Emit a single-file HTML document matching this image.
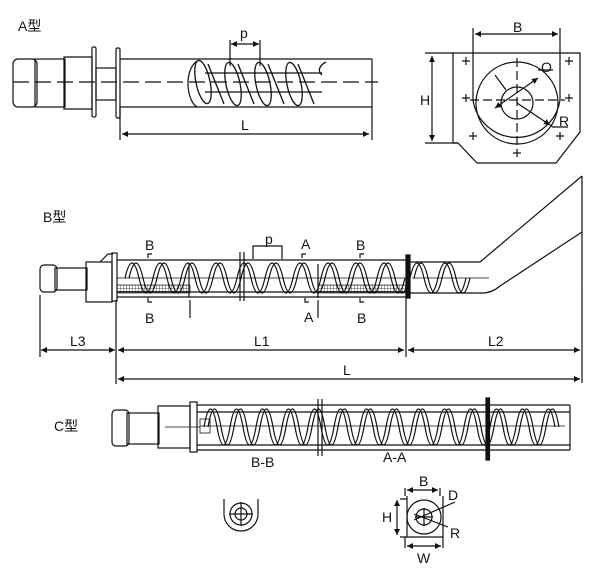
<!DOCTYPE html>
<html><head><meta charset="utf-8"><style>
html,body{margin:0;padding:0;background:#fff;}
svg{display:block;}
text{font-family:"Liberation Sans","Noto Sans CJK SC",sans-serif;fill:#111;}
</style></head><body>
<svg width="600" height="572" viewBox="0 0 600 572" xmlns="http://www.w3.org/2000/svg">
<defs>
<marker id="a" viewBox="0 0 10 10" refX="10" refY="5" markerWidth="7" markerHeight="5" orient="auto-start-reverse"><path d="M0,0 L10,5 L0,10 z" fill="#111"/></marker>
<pattern id="m" width="3" height="3" patternUnits="userSpaceOnUse"><path d="M0,0H3M0,0V3" stroke="#222" stroke-width="0.8"/></pattern>
</defs>
<g fill="none" stroke="#111" stroke-width="1.2">
<!-- ===== A type ===== -->
<rect x="13" y="59" width="24" height="48" rx="5"/>
<rect x="35" y="59" width="30" height="48"/>
<path d="M64,57 h28 v52 h-28 z"/>
<rect x="92" y="47" width="4" height="70" rx="1.5"/>
<rect x="96" y="68" width="20" height="32"/>
<rect x="116" y="48" width="4" height="70" rx="1.5"/>
<path d="M120,59 H372 M120,107 H372 M372,59 V140 M120,107 V140"/>
<path d="M13,82 H378" stroke-dasharray="16,6"/>
<path d="M197,61 C184,70 186,100 197,107"/>
<path d="M205,73 H322 M205,92 H322"/>
<g stroke-width="1.3">
<ellipse cx="203" cy="82" rx="7" ry="22" transform="rotate(-12 203 82)"/>
<ellipse cx="233" cy="84" rx="7" ry="22" transform="rotate(-12 233 84)"/>
<ellipse cx="263" cy="84" rx="7" ry="22" transform="rotate(-12 263 84)"/>
<ellipse cx="294" cy="84" rx="7" ry="22" transform="rotate(-12 294 84)"/>
<path d="M208,64 L224,104 M238,64 L254,104 M268,64 L284,104 M298,64 L314,104"/>
<path d="M326,62 C318,66 318,72 322,75"/>
</g>
<path d="M230,40 V66 M260,40 V66"/>
<path d="M231,44 H259" marker-start="url(#a)" marker-end="url(#a)"/>
<path d="M122,134 H369" marker-start="url(#a)" marker-end="url(#a)"/>
<!-- ===== top-right view ===== -->
<path d="M453,53 H580 V132 L556,163 H477 L458,143 H453 Z"/>
<path d="M425,53 H453 M425,143 H458"/>
<path d="M432,56 V141" marker-start="url(#a)" marker-end="url(#a)"/>
<path d="M473,28 V100 M560,28 V100"/>
<path d="M475,34 H558" marker-start="url(#a)" marker-end="url(#a)"/>
<path d="M473,100 A44,44 0 0 0 560,100"/>
<circle cx="517" cy="103" r="41"/>
<circle cx="517" cy="103" r="16"/>
<path d="M470,100 H565 M517,58 V150" stroke-dasharray="9,4"/>
<path d="M495,108 L538,78" marker-start="url(#a)" marker-end="url(#a)"/>
<path d="M517,103 L550,125" marker-end="url(#a)"/>
<path d="M495,75 L506,90"/>
<path d="M538,70 H553 M550,125 L553,127 H568"/>
<path d="M462,61h8M466,57v8 M565,61h8M569,57v8 M462,98h8M466,94v8 M565,98h8M569,94v8 M469,136h8M473,132v8 M556,136h8M560,132v8 M513,153h8M517,149v8"/>
<!-- ===== B type ===== -->
<rect x="40" y="265" width="17" height="27" rx="4"/>
<rect x="55" y="268" width="32" height="22"/>
<rect x="86" y="262" width="26" height="40"/>
<path d="M100,262 L108,254 H113"/>
<rect x="112" y="253" width="5" height="48"/>
<path d="M117,260 H406 M117,297 H406 M117,292 H406"/>
<path d="M409,262 H480 L582,176 M409,293 H482 Q492,293 500,286 L582,232 M582,176 V383"/>
<rect x="117" y="285" width="73" height="8" fill="url(#m)" stroke-width="0.6"/>
<rect x="318" y="285" width="88" height="8" fill="url(#m)" stroke-width="0.6"/>
<path d="M189,264 V297 M318,264 V298"/>
<path d="M240,252 V301 M244,252 V301"/>
<path d="M117,278 H406 M412,278 H489" stroke-width="0.8"/>
<g stroke-width="1.2">
<path d="M125,278 q7,-30 14,0 t14,0 t14,0 t14,0 t14,0 t14,0 t14,0 t14,0 t14,0 t14,0 t14,0 t14,0 t14,0 t14,0 t14,0 t14,0 t14,0 t14,0 t14,0 t14,0"/>
<path d="M129,278 q7,-30 14,0 t14,0 t14,0 t14,0 t14,0 t14,0 t14,0 t14,0 t14,0 t14,0 t14,0 t14,0 t14,0 t14,0 t14,0 t14,0 t14,0 t14,0 t14,0 t14,0"/>
<path d="M410,278 q7,-30 14,0 t14,0 t14,0 t14,0"/>
<path d="M414,278 q7,-30 14,0 t14,0 t14,0 t14,0"/>
</g>
<rect x="406" y="255" width="4" height="43" fill="#111"/>
<path d="M148,258 v-4 h4 M148,298 v4 h4 M302,258 v-4 h4 M305,298 v4 h4 M360,258 v-4 h4 M360,298 v4 h4"/>
<path d="M190,300 V318 M318,300 V318"/>
<path d="M253,259 V246 H282 V259"/>
<path d="M40,295 V357 M116,300 V384 M406,298 V357"/>
<path d="M41,350 H115" marker-start="url(#a)" marker-end="url(#a)"/>
<path d="M118,350 H404" marker-start="url(#a)" marker-end="url(#a)"/>
<path d="M408,350 H580" marker-start="url(#a)" marker-end="url(#a)"/>
<path d="M118,379 H580" marker-start="url(#a)" marker-end="url(#a)"/>
<!-- ===== C type ===== -->
<rect x="112" y="410" width="17" height="36" rx="4"/>
<rect x="127" y="413" width="32" height="31"/>
<rect x="158" y="406" width="32" height="42"/>
<rect x="190" y="402" width="7" height="50"/>
<path d="M197,405 H570 M197,450 H570 M197,412 H570 M197,445 H570 M570,405 V450"/>
<path d="M165,427 H200" stroke-width="0.8"/>
<rect x="200" y="419" width="10" height="14" stroke-width="0.8"/>
<path d="M200,426 H565" stroke-width="0.8"/>
<g stroke-width="1.2">
<path d="M204,427 q6.5,-36 13,0 t13,0 t13,0 t13,0 t13,0 t13,0 t13,0 t13,0 t13,0 t13,0 t13,0 t13,0 t13,0 t13,0 t13,0 t13,0 t13,0 t13,0 t13,0 t13,0 t13,0 t13,0 t13,0 t13,0 t13,0 t13,0 t13,0"/>
<path d="M208,427 q6.5,-36 13,0 t13,0 t13,0 t13,0 t13,0 t13,0 t13,0 t13,0 t13,0 t13,0 t13,0 t13,0 t13,0 t13,0 t13,0 t13,0 t13,0 t13,0 t13,0 t13,0 t13,0 t13,0 t13,0 t13,0 t13,0 t13,0 t13,0"/>
</g>
<path d="M318,399 V456 M322,399 V456"/>
<rect x="486" y="398" width="3.5" height="62" fill="#111"/>
<path d="M224,499 V514 A17,17 0 0 0 258,514 V499"/>
<circle cx="241" cy="514" r="11"/>
<circle cx="241" cy="514" r="6"/>
<path d="M229,514 H253 M241,502 V526"/>
<path d="M407,496 V537 H443 V496 M400,499 H407 M400,537 H407 M405,537 V548 M443,537 V548 M405,496 V488 M440,496 V488"/>
<circle cx="424" cy="517" r="17"/>
<circle cx="424" cy="517" r="8"/>
<path d="M415,517 H433 M424,508 V526"/>
<path d="M397,500 V535" marker-start="url(#a)" marker-end="url(#a)"/>
<path d="M407,490 H438" marker-start="url(#a)" marker-end="url(#a)"/>
<path d="M407,546 H441" marker-start="url(#a)" marker-end="url(#a)"/>
<path d="M414,520 L455,502 M414,514 L448,527"/>
</g>
<g font-size="14">
<text x="18" y="31">A型</text>
<text x="240" y="38">p</text>
<text x="241" y="130">L</text>
<text x="513" y="32">B</text>
<text x="420" y="105">H</text>
<text x="541" y="72">O</text>
<text x="559" y="126">R</text>
<text x="43" y="222">B型</text>
<text x="145" y="250">B</text>
<text x="145" y="323">B</text>
<text x="265" y="244">p</text>
<text x="301" y="249">A</text>
<text x="304" y="322">A</text>
<text x="356" y="250">B</text>
<text x="357" y="323">B</text>
<text x="70" y="346">L3</text>
<text x="254" y="346">L1</text>
<text x="488" y="346">L2</text>
<text x="343" y="375">L</text>
<text x="54" y="431">C型</text>
<text x="251" y="467">B-B</text>
<text x="383" y="462">A-A</text>
<text x="419" y="486">B</text>
<text x="448" y="500">D</text>
<text x="382" y="522">H</text>
<text x="450" y="538">R</text>
<text x="417" y="563">W</text>
</g>
</svg>
</body></html>
